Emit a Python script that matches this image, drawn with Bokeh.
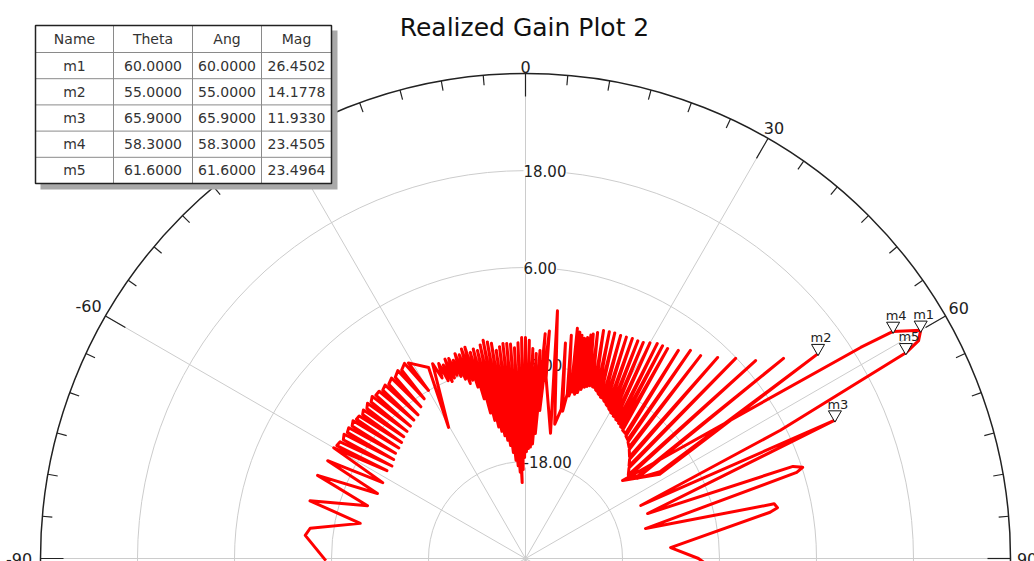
import math
from bokeh.plotting import figure
from bokeh.models import Range1d
from bokeh.embed import file_html
from bokeh.resources import INLINE
from bokeh.core.properties import value

# ---------------- data ----------------
TITLE = "Realized Gain Plot 2"

marker_names = ["m1", "m2", "m3", "m4", "m5"]
marker_theta = [60.0, 55.0, 65.9, 58.3, 61.6]
marker_ang = [60.0, 55.0, 65.9, 58.3, 61.6]
marker_mag = [26.4502, 14.1778, 11.9330, 23.4505, 23.4964]
table_header = ["Name", "Theta", "Ang", "Mag"]

ring_values = [-18.0, -6.0, 6.0, 18.0]
ring_labels = ["-18.00", "-6.00", "6.00", "18.00"]
angle_ticks = [-90, -60, -30, 0, 30, 60, 90]
angle_labels = ["-90", "-60", "-30", "0", "30", "60", "90"]

# trace: theta (deg), magnitude (dB)
# lower-left zigzag
ll_theta = [-90.6, -84.0, -82.0, -78.0, -75.0, -71.5, -68.2, -66.3, -63.7, -62.0]
ll_mag = [-5.3, -2.6, -3.1, -9.1, -2.4, -9.4, -2.3, -10.0, -2.7, -10.0]

# upper-left hairpins: outer tip and inner tip of each
ul_outer_theta = [-60.0, -57.8, -55.6, -53.5, -51.4, -49.4, -47.5, -45.5, -43.4, -41.2,
                  -39.0, -36.6, -34.2, -31.8]
ul_outer_mag = [-2.6, -2.9, -2.8, -2.8, -2.7, -2.9, -2.8, -2.6, -2.4, -2.5,
                -2.4, -2.2, -1.9, -1.6]
ul_inner_theta = [-57.6, -55.3, -53.1, -51.0, -48.9, -46.9, -45.0, -43.0, -41.0, -38.9,
                  -36.8, -34.6, -32.4, -30.0]
ul_inner_mag = [-9.7, -9.9, -9.6, -9.3, -9.2, -9.0, -8.7, -8.5, -8.3, -8.0,
                -7.8, -7.2, -6.6, -6.0]

# single long stroke near -30 deg
ls_theta = [-26.9, -30.4, -25.5]
ls_mag = [-3.5, -11.2, -3.3]

# dense central region
mid_theta = [-24.8, -24.0, -23.5, -23.0, -22.5, -22.0, -21.5, -21.0, -20.5, -20.0,
             -19.5, -19.0, -18.5, -18.0, -17.5, -17.0, -16.5, -16.0, -15.5, -15.0,
             -14.5, -14.0, -13.5, -13.0, -12.5, -12.0, -11.5, -11.0, -10.5, -10.0,
             -9.5, -9.0, -8.5, -8.0, -7.5, -7.0, -6.5, -6.0, -5.5, -5.0,
             -4.5, -4.0, -3.5, -3.0, -2.5, -2.0, -1.5, -1.0, -0.5, 0.0,
             0.5, 1.0, 1.5, 2.0, 2.5, 3.0, 3.5, 4.0, 4.5, 5.0,
             5.5, 6.0, 6.5, 11.3, 7.35, 12.3]
mid_mag = [-5.4, -3.6, -6.0, -4.0, -6.3, -3.4, -6.0, -3.5, -5.8, -3.9,
           -6.1, -3.2, -6.6, -3.5, -7.3, -2.9, -7.0, -2.8, -8.0, -3.6,
           -9.6, -3.3, -11.5, -3.6, -12.5, -3.0, -13.4, -2.5, -14.0, -2.8,
           -14.6, -3.05, -15.2, -4.0, -15.9, -3.6, -16.8, -3.25, -17.8, -3.3,
           -18.5, -3.4, -19.3, -3.9, -20.6, -3.3, -19.0, -2.65, -17.5, -2.65,
           -16.8, -3.0, -16.4, -4.0, -16.2, -4.6, -15.8, -4.2, -14.5, -2.1,
           -11.6, -1.7, -7.5, -14.2, 0.9, -13.0]

# right-hand hairpins: peak and base of each
rp_theta = [10.5, 11.6, 12.7, 13.5, 14.2, 15.0, 15.7, 16.3, 16.8, 17.7,
            18.9, 20.3, 21.6, 23.1, 24.5, 25.9, 27.3, 28.6, 30.0, 31.5,
            32.8, 34.1, 36.3, 38.4, 40.8, 43.7, 46.4, 49.3, 52.2, 55.0]
rp_mag = [-2.9, -1.8, -0.8, -1.2, -1.5, -1.8, -1.6, -1.2, -1.0, -0.65,
          -0.2, -0.1, 0.0, 0.0, 0.1, 0.26, 0.3, 0.44, 0.8, 1.2,
          1.3, 1.36, 1.94, 2.85, 3.16, 4.4, 5.9, 7.55, 10.4, 14.18]
rb_theta = [13.8, 14.6, 15.5, 16.3, 17.0, 17.8, 18.6, 19.3, 20.0, 21.0,
            22.2, 23.4, 24.6, 26.0, 27.3, 28.7, 30.0, 31.3, 32.7, 34.2,
            35.5, 36.8, 39.0, 41.0, 43.3, 46.0, 48.5, 51.2, 54.0, 57.5]
rb_mag = [-11.0, -9.0, -8.4, -8.6, -8.3, -7.8, -7.4, -7.2, -7.0, -7.0,
          -7.2, -7.5, -7.8, -8.0, -8.3, -8.6, -8.9, -9.1, -9.3, -9.5,
          -9.7, -9.9, -10.2, -10.6, -11.2, -12.0, -12.8, -13.6, -12.8, -10.2]

# main beam and lower-right lobes
lobe_theta = [51.2, 57.8, 58.3, 60.0, 61.0, 61.6, 63.3, 65.3, 65.9, 69.8,
              71.0, 71.8, 72.4, 76.0, 77.6, 78.6, 79.3, 85.7, 90.0, 92.0]
lobe_mag = [-14.6, 19.0, 23.45, 26.45, 25.6, 23.5, 5.3, -14.3, 11.93, -13.9,
            5.0, 6.1, 5.2, -14.7, 1.5, 1.8, 0.8, -12.0, -8.6, -7.5]

# ---------------- layout ----------------
W, H = 1034, 561
CX, CY = 525, 558          # page pixel of the pole
R = 485.0                  # outer radius, px
MAG_MIN, MAG_MAX = -30.0, 30.0
FONT = value("DejaVu Sans")


def X(px):
    return px - CX


def Y(py):
    return CY - py


def rad(m):
    return (m - MAG_MIN) / (MAG_MAX - MAG_MIN) * R


def pol(theta, mag):
    r = rad(mag)
    t = math.radians(theta)
    return r * math.sin(t), r * math.cos(t)


# assemble the trace path
trace_theta = list(ll_theta)
trace_mag = list(ll_mag)
for ot, om, it, im in zip(ul_outer_theta, ul_outer_mag, ul_inner_theta, ul_inner_mag):
    trace_theta += [ot, it, ot + 0.9]
    trace_mag += [om, im, om - 0.2]
trace_theta += ls_theta + mid_theta
trace_mag += ls_mag + mid_mag
for pt, pm, bt, bm in zip(rp_theta, rp_mag, rb_theta, rb_mag):
    trace_theta += [bt - 0.35, pt, bt + 0.35]
    trace_mag += [bm, pm, bm - 0.2]
trace_theta += lobe_theta
trace_mag += lobe_mag

p = figure(width=W, height=H, output_backend="svg", toolbar_location=None,
           x_range=Range1d(X(0), X(W)), y_range=Range1d(Y(H), Y(0)),
           min_border=0, outline_line_color=None,
           x_axis_type=None, y_axis_type=None)
p.background_fill_color = "white"
p.border_fill_color = "white"

# grid rings
p.circle(x=[0] * len(ring_values), y=[0] * len(ring_values),
         radius=[rad(v) for v in ring_values],
         fill_color=None, line_color="#cccccc", line_width=1)

# spokes
sp = [a for a in range(-180, 180, 30)]
p.segment(x0=[0] * len(sp), y0=[0] * len(sp),
          x1=[R * math.sin(math.radians(a)) for a in sp],
          y1=[R * math.cos(math.radians(a)) for a in sp],
          line_color="#cccccc", line_width=1)

# outer circle and ticks
p.circle(x=[0], y=[0], radius=[R], fill_color=None, line_color="#222222", line_width=1.5)
ta = list(range(-180, 180, 5))
tl = [23 if a % 30 == 0 else 10 for a in ta]
p.segment(x0=[R * math.sin(math.radians(a)) for a in ta],
          y0=[R * math.cos(math.radians(a)) for a in ta],
          x1=[(R - l) * math.sin(math.radians(a)) for a, l in zip(ta, tl)],
          y1=[(R - l) * math.cos(math.radians(a)) for a, l in zip(ta, tl)],
          line_color="#222222", line_width=1.2)

# angle labels
lx, ly = [], []
for a, lab in zip(angle_ticks, angle_labels):
    rr = R + 7 + 4.8 * len(lab) * abs(math.sin(math.radians(a)))
    lx.append(rr * math.sin(math.radians(a)))
    ly.append(rr * math.cos(math.radians(a)))
p.text(x=lx, y=ly, text=angle_labels, text_font=FONT, text_font_size="16px",
       text_color="#222222", text_align="center", text_baseline="middle")

# ring labels (white boxes)
p.text(x=[-2] * len(ring_values), y=[rad(v) for v in ring_values], text=ring_labels,
       text_font=FONT, text_font_size="15px", text_color="#222222",
       text_align="left", text_baseline="middle",
       background_fill_color="white", padding=0)

# trace
pts = [pol(t, m) for t, m in zip(trace_theta, trace_mag)]
p.line(x=[q[0] for q in pts], y=[q[1] for q in pts], line_color="#ff0000",
       line_width=3, line_join="round")

# markers
mp = [pol(t, m) for t, m in zip(marker_theta, marker_mag)]
p.scatter(x=[q[0] for q in mp], y=[q[1] + 5.5 for q in mp], marker="inverted_triangle",
          size=13, fill_color="white", line_color="#111111", line_width=1)
p.text(x=[q[0] + 3 for q in mp], y=[q[1] + 16 for q in mp], text=marker_names,
       text_font=FONT, text_font_size="13px", text_color="#222222",
       text_align="center", text_baseline="alphabetic")

# title
p.text(x=[X(524)], y=[Y(27)], text=[TITLE], text_font=FONT, text_font_size="25px",
       text_color="#111111", text_align="center", text_baseline="middle")

# marker table
cols = [35, 113, 192, 261, 331]
rows = [25, 52, 78.2, 104.4, 130.6, 156.8, 183]
p.quad(left=[X(cols[0] + 5)], right=[X(cols[-1] + 6)], top=[Y(rows[0] + 5)],
       bottom=[Y(rows[-1] + 6)], fill_color="#a9a9a9", line_color=None)
p.quad(left=[X(cols[0])], right=[X(cols[-1])], top=[Y(rows[0])], bottom=[Y(rows[-1])],
       fill_color="white", line_color=None)
ic = cols[1:-1]
ir = rows[1:-1]
p.segment(x0=[X(c) for c in ic], y0=[Y(rows[0])] * len(ic),
          x1=[X(c) for c in ic], y1=[Y(rows[-1])] * len(ic),
          line_color="#8a8a8a", line_width=1)
p.segment(x0=[X(cols[0])] * len(ir), y0=[Y(r) for r in ir],
          x1=[X(cols[-1])] * len(ir), y1=[Y(r) for r in ir],
          line_color="#8a8a8a", line_width=1)
p.quad(left=[X(cols[0])], right=[X(cols[-1])], top=[Y(rows[0])], bottom=[Y(rows[-1])],
       fill_color=None, line_color="#222222", line_width=1.5)

cells = [table_header] + [[n, "%.4f" % t, "%.4f" % a, "%.4f" % m]
                          for n, t, a, m in zip(marker_names, marker_theta, marker_ang, marker_mag)]
tx, ty, tt = [], [], []
for i, row in enumerate(cells):
    for j, s in enumerate(row):
        tx.append(X((cols[j] + cols[j + 1]) / 2))
        ty.append(Y((rows[i] + rows[i + 1]) / 2))
        tt.append(s)
p.text(x=tx, y=ty, text=tt, text_font=FONT, text_font_size="14px",
       text_color="#333333", text_align="center", text_baseline="middle")

open("out.html", "w").write(file_html(p, INLINE))
